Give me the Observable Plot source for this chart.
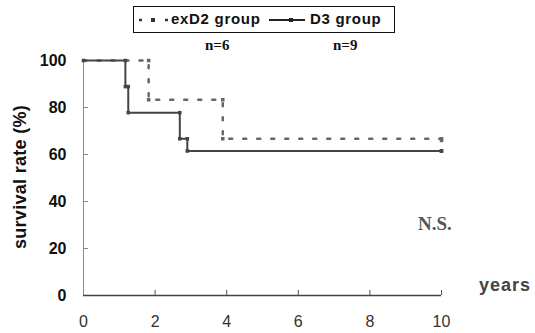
<!DOCTYPE html>
<html>
<head>
<meta charset="utf-8">
<script src="https://cdn.jsdelivr.net/npm/d3@7"></script>
<script src="https://cdn.jsdelivr.net/npm/@observablehq/plot@0.6"></script>
<style>
  html, body { margin: 0; padding: 0; background: #fff; }
  #wrap { position: relative; width: 535px; height: 333px; overflow: hidden; }
  .ov { position: absolute; white-space: nowrap; }
  .legend { left: 133px; top: 6px; width: 260px; height: 25px; border: 1.5px solid #111;
            font: bold 15px "Liberation Sans", Arial, sans-serif; letter-spacing: 0.7px; color: #111; }
  .serif { font-family: "Liberation Serif", "Times New Roman", serif; font-weight: bold; }
</style>
</head>
<body>
<div id="wrap"></div>
<script>
// ---- data ----
const d3Years   = [0, 1.17, 1.25, 2.69, 2.90, 10];
const d3Surv    = [100, 88.9, 77.8, 66.7, 61.5, 61.5];
const exD2Years = [0, 1.82, 3.89, 10];
const exD2Surv  = [100, 83.3, 66.7, 66.0];
const xTicks = [0, 2, 4, 6, 8, 10];
const yTicks = [0, 20, 40, 60, 80, 100];
const seriesNames = ["exD2 group", "D3 group"];
const sampleSizes = ["n=6", "n=9"];
const significance = "N.S.";

const d3Data = d3Years.map((t, i) => ({t, s: d3Surv[i]}));
const exData = exD2Years.map((t, i) => ({t, s: exD2Surv[i]}));
// step corner points for markers
function corners(data) {
  const out = [];
  data.forEach((d, i) => {
    if (i > 0) out.push({t: d.t, s: data[i - 1].s});
    out.push(d);
  });
  return out;
}
const d3Pts = corners(d3Data).filter(d => d.t > 0 || d.s === 100);
const exPts = corners(exData).filter(d => d.t > 1.5);

const chart = Plot.plot({
  width: 535,
  height: 333,
  marginLeft: 83,
  marginRight: 94,
  marginTop: 60,
  marginBottom: 38,
  style: {fontFamily: "Liberation Sans, Arial, sans-serif", background: "transparent"},
  x: {domain: [0, 10]},
  y: {domain: [0, 100]},
  marks: [
    // inward ticks
    Plot.axisY({ticks: yTicks, tickSize: -5, text: null, stroke: "#888", label: null}),
    Plot.axisX({ticks: xTicks, tickSize: -5, text: null, stroke: "#555", label: null}),
    // labels
    Plot.axisY({ticks: yTicks, tickSize: 0, tickPadding: 17, fontSize: 16, fontWeight: "bold", fill: "#111", label: null}),
    Plot.axisX({ticks: xTicks, tickSize: 0, tickPadding: 20, fontSize: 16, fill: "#333", label: null}),
    Plot.ruleX([0], {y1: 0, y2: 100, stroke: "#888", strokeWidth: 1}),
    Plot.ruleY([0], {x1: 0, x2: 10, stroke: "#444", strokeWidth: 1.3}),
    // exD2 dotted
    Plot.line(exData, {x: "t", y: "s", curve: "step-after", stroke: "#666", strokeWidth: 2.5, strokeDasharray: "3,11"}),
    Plot.dot(exPts, {x: "t", y: "s", r: 2, fill: "#666", symbol: "square"}),
    // D3 solid
    Plot.line(d3Data, {x: "t", y: "s", curve: "step-after", stroke: "#444", strokeWidth: 2}),
    Plot.dot(d3Pts, {x: "t", y: "s", r: 2, fill: "#444", symbol: "square"})
  ]
});
const wrap = document.getElementById("wrap");
wrap.appendChild(chart);

// overlays: legend + annotations
function ov(html, css, cls) {
  const d = document.createElement("div");
  d.className = "ov " + (cls || "");
  d.style.cssText = css;
  d.innerHTML = html;
  wrap.appendChild(d);
  return d;
}
ov(
  `<svg width="40" height="25" style="position:absolute;left:3px;top:0">
     <line x1="2" y1="13" x2="38" y2="13" stroke="#333" stroke-width="2.5" stroke-dasharray="3,10"/>
     <rect x="14" y="11" width="4" height="4" fill="#333"/>
   </svg>
   <span style="position:absolute;left:37px;top:3px">${seriesNames[0]}</span>
   <svg width="40" height="25" style="position:absolute;left:133px;top:0">
     <line x1="2" y1="13" x2="38" y2="13" stroke="#222" stroke-width="2"/>
     <rect x="22" y="11" width="4" height="4" fill="#222"/>
   </svg>
   <span style="position:absolute;left:176px;top:3px">${seriesNames[1]}</span>`,
  "", "legend");
ov(sampleSizes[0], "left:205px;top:37px;font-size:15px;color:#111", "serif");
ov(sampleSizes[1], "left:333px;top:37px;font-size:15px;color:#111", "serif");
ov(significance, "left:418px;top:213px;font-size:19px;color:#555", "serif");
ov("years", "left:479px;top:275px;font:bold 18px 'Liberation Sans',Arial,sans-serif;color:#444;letter-spacing:1px");
ov("survival rate (%)",
   "left:20px;top:177px;transform:translate(-50%,-50%) rotate(-90deg);font:bold 18px 'Liberation Sans',Arial,sans-serif;color:#111;letter-spacing:0.3px");
</script>
</body>
</html>
